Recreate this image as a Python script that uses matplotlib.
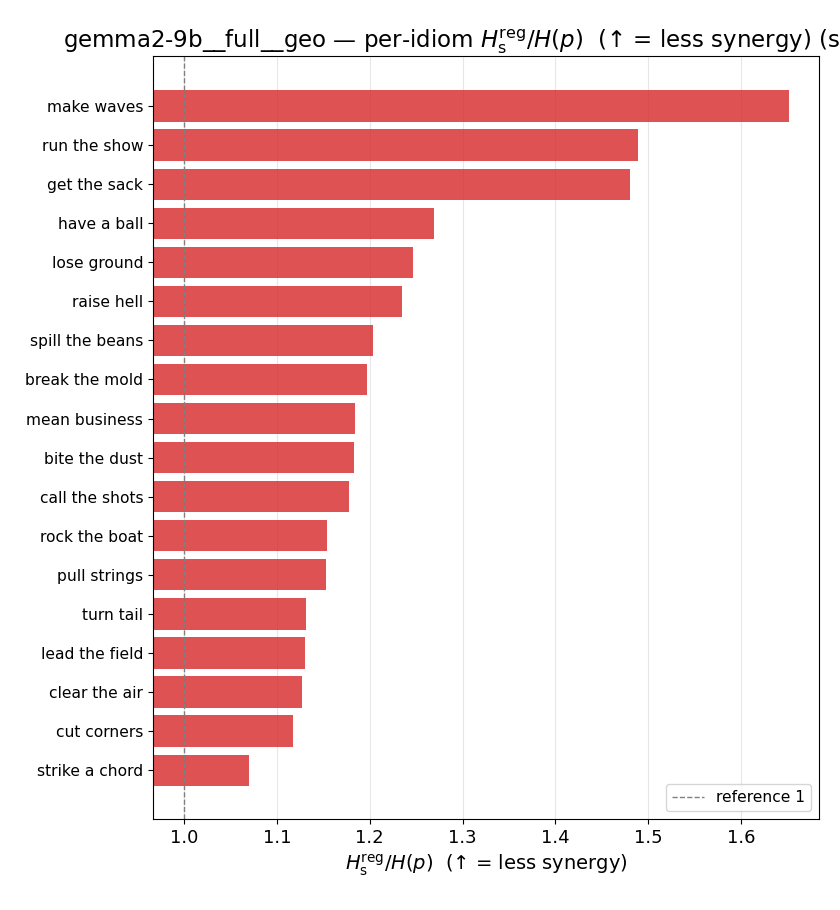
import matplotlib.pyplot as plt

idioms = ["make waves", "run the show", "get the sack", "have a ball", "lose ground",
          "raise hell", "spill the beans", "break the mold", "mean business",
          "bite the dust", "call the shots", "rock the boat", "pull strings",
          "turn tail", "lead the field", "clear the air", "cut corners", "strike a chord"]
ratios = [1.652, 1.489, 1.480, 1.269, 1.247, 1.235, 1.204, 1.197, 1.184,
          1.183, 1.178, 1.154, 1.153, 1.131, 1.130, 1.127, 1.117, 1.070]

fig = plt.figure(figsize=(8.4, 9.1), dpi=100)
ax = fig.add_axes([153/840, 1-819/910, 666/840, 763/910])
y = list(range(len(idioms)))
ax.barh(y, ratios, color="tab:red", alpha=0.8, height=0.8)
ax.axvline(1.0, color="gray", ls="--", lw=1, label="reference 1")
ax.set_yticks(y)
ax.set_yticklabels(idioms, fontsize=11.2)
ax.set_ylim(len(idioms) - 1 + 1.25, -1.28)
ax.set_xlim(0.9666, 1.684)
ax.grid(axis="x", alpha=0.3)
ax.set_axisbelow(True)
ax.tick_params(axis="x", labelsize=13)
lab = r"$H_{\mathrm{s}}^{\mathrm{reg}}/H(p)$  (↑ = less synergy)"
ax.set_xlabel(lab, fontsize=14)
ax.set_title("gemma2-9b__full__geo — per-idiom " + lab + " (sorted)", fontsize=16.5)
ax.legend(loc="lower right", fontsize=11.2)
fig.savefig("out.png")
